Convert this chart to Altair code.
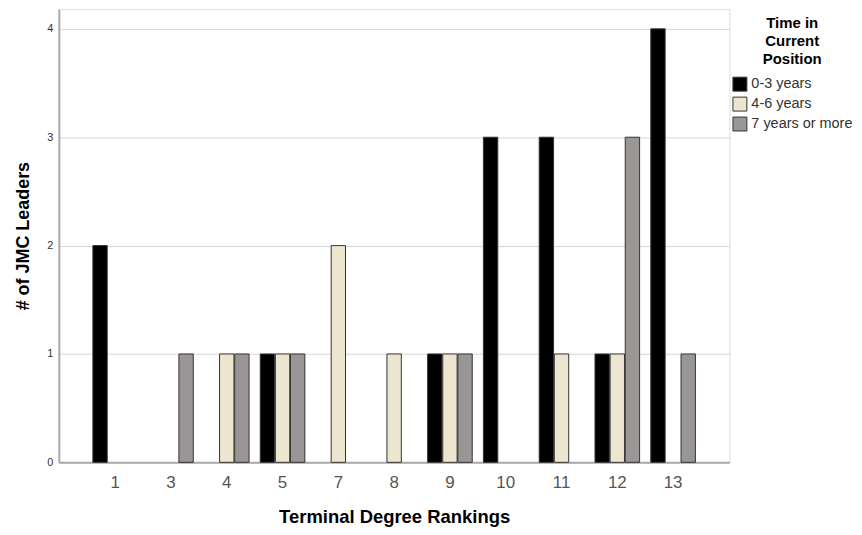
import altair as alt
import pandas as pd

rankings = ["1", "3", "4", "5", "7", "8", "9", "10", "11", "12", "13"]
series = ["0-3 years", "4-6 years", "7 years or more"]
v_0_3 = [2, 0, 0, 1, 0, 0, 1, 3, 3, 1, 4]
v_4_6 = [0, 0, 1, 1, 2, 1, 1, 0, 1, 1, 0]
v_7p = [0, 1, 1, 1, 0, 0, 1, 0, 0, 3, 1]
colors = ["#000000", "#ECE6D1", "#9A9696"]
y_ticks = [0, 1, 2, 3, 4]

rows = []
for i, r in enumerate(rankings):
    for s, vals in zip(series, [v_0_3, v_4_6, v_7p]):
        rows.append({"rank": r, "time": s, "count": vals[i]})
df = pd.DataFrame(rows)
df = df[df["count"] > 0]

FONT = "Liberation Sans"

chart = alt.Chart(df).mark_bar(stroke="#333333", strokeWidth=1).encode(
    x=alt.X(
        "rank:N",
        sort=rankings,
        scale=alt.Scale(domain=rankings, paddingInner=0, paddingOuter=0.51),
        axis=alt.Axis(
            title="Terminal Degree Rankings",
            labelAngle=0,
            ticks=False,
            grid=False,
            labelFontSize=17,
            labelColor="#555555",
            labelPadding=12,
            labelFont=FONT,
            titleFont=FONT,
            titleFontSize=18.5,
            titleFontWeight="bold",
            titleColor="#000000",
            titlePadding=17,
            domainColor="#aaaaaa",
            domainWidth=2,
        ),
    ),
    xOffset=alt.XOffset(
        "time:N",
        scale=alt.Scale(domain=series, paddingInner=0.05, paddingOuter=0.37),
    ),
    y=alt.Y(
        "count:Q",
        scale=alt.Scale(domain=[0, 4.184], nice=False),
        axis=alt.Axis(
            title="# of JMC Leaders",
            values=y_ticks,
            ticks=False,
            grid=True,
            gridColor="#d6d6d6",
            gridWidth=1,
            labelFontSize=11,
            labelColor="#333333",
            labelPadding=6,
            labelFont=FONT,
            titleFont=FONT,
            titleFontSize=18,
            titleFontWeight="bold",
            titleColor="#000000",
            titlePadding=14,
            domainColor="#aaaaaa",
            domainWidth=2,
        ),
    ),
    color=alt.Color(
        "time:N",
        scale=alt.Scale(domain=series, range=colors),
        legend=alt.Legend(
            title=["Time in", "Current", "Position"],
            orient="none",
            legendX=676,
            legendY=7,
            titleFont=FONT,
            titleFontSize=15,
            titleFontWeight="bold",
            titleColor="#000000",
            titleAlign="center",
            titleAnchor="middle",
            titleLineHeight=18,
            titlePadding=10,
            symbolType="square",
            symbolSize=196,
            symbolStrokeColor="#333333",
            symbolStrokeWidth=1,
            symbolOpacity=1,
            labelFont=FONT,
            labelFontSize=14.5,
            labelColor="#333333",
            labelOffset=4,
            rowPadding=1,
        ),
    ),
).properties(
    width=673,
    height=455,
    autosize=alt.AutoSizeParams(type="none"),
    padding={"left": 51, "top": 0, "right": 125, "bottom": 72},
).configure_view(stroke="transparent", strokeWidth=0).configure(font=FONT)

chart.save("out.html", embed_options={"renderer": "svg", "actions": False})
